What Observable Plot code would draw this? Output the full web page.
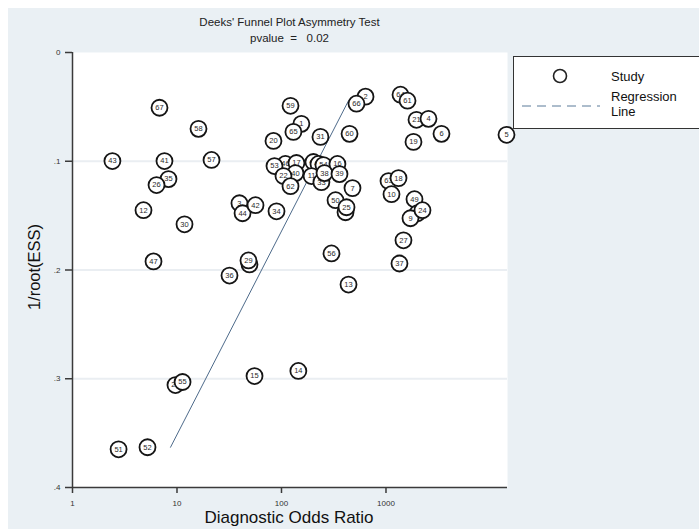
<!DOCTYPE html>
<html>
<head>
<meta charset="utf-8">
<script src="https://cdn.jsdelivr.net/npm/d3@7"></script>
<script src="https://cdn.jsdelivr.net/npm/@observablehq/plot@0.6"></script>
<style>
  body { margin: 0; background: #fff; font-family: "Liberation Sans", Arial, sans-serif; }
  #wrap { position: relative; width: 699px; height: 529px; overflow: hidden; }
  #bg { position: absolute; left: 8px; top: 8px; right: 0; bottom: 0; background: #eaf0f4; }
  #title { position: absolute; left: 72px; width: 435px; top: 14px; text-align: center; font-size: 11.5px; line-height: 16px; color: #222; }
  #chart { position: absolute; left: 0; top: 0; }
  #ytitle { position: absolute; left: 34px; top: 267px; transform: translate(-50%, -50%) rotate(-90deg); font-size: 16.5px; color: #111; white-space: nowrap; }
  #xtitle { position: absolute; left: 289px; top: 518px; transform: translate(-50%, -50%); font-size: 17px; color: #111; white-space: nowrap; }
  #legend { position: absolute; left: 513px; top: 56px; width: 200px; height: 73px; background: #fff; border: 1.5px solid #333; box-sizing: border-box; }
  #legend svg { position: absolute; left: 0; top: 0; }
  .lt { font-size: 13px; fill: #111; }
</style>
</head>
<body>
<div id="wrap">
  <div id="bg"></div>
  <div id="title">Deeks' Funnel Plot Asymmetry Test<br>pvalue &nbsp;= &nbsp; 0.02</div>
  <div id="chart"></div>
  <div id="ytitle">1/root(ESS)</div>
  <div id="xtitle">Diagnostic Odds Ratio</div>
  <div id="legend">
    <svg width="200" height="73">
      <circle cx="46" cy="19" r="6.5" fill="#fff" stroke="#222" stroke-width="1.6"></circle>
      <text class="lt" x="97" y="24">Study</text>
      <line x1="8" x2="86" y1="49" y2="49" stroke="#5a7a99" stroke-width="1" stroke-dasharray="9,6"></line>
      <text class="lt" x="97" y="44">Regression</text>
      <text class="lt" x="97" y="59">Line</text>
    </svg>
  </div>
</div>
<script>
// Study labels, in drawing order
const studyIds = [
  "64","61","2","66","59","1","65","20","31","60","67","58","43","41","57",
  "21","4","6","19","5","35","26","12","30",
  "46","53","17","40","22","62",
  "45","48","54","11","33","38","16","39","7","50","23","25",
  "63","18","10","49","8","9","24","27",
  "3","44","42","34","56","37","13","14","47","32","29","36","15","28","55","51","52"
];
// Diagnostic odds ratio (x)
const dorValues = [
  1377,1607,637,522,122,155,130,83.8,236,448,6.80,16.06,2.41,7.59,21.4,
  1959,2552,3397,1833,14230,8.29,6.37,4.78,11.8,
  109,85.7,139,136,104.5,122,
  202,226,252,194,241,258,343,359,478,329,410,419,
  1057,1318,1129,1874,2002,1716,2235,1470,
  39.6,42.4,56.4,89.6,301,1346,438,145,5.96,49.4,48.3,31.8,55.2,9.67,11.3,2.76,5.22
];
// 1/root(ESS) (y)
const invRootEss = [
  0.0388,0.0443,0.0406,0.0471,0.049,0.0656,0.073,0.0813,0.0776,0.0748,0.0508,0.0702,0.0998,0.0998,0.0988,
  0.0619,0.061,0.0748,0.0822,0.0757,0.1164,0.1219,0.145,0.158,
  0.1025,0.1044,0.1016,0.1109,0.1136,0.1229,
  0.1007,0.1025,0.1035,0.1136,0.1192,0.1109,0.1025,0.1118,0.1247,0.1358,0.1469,0.1423,
  0.1182,0.1155,0.1303,0.1349,0.1478,0.1524,0.145,0.1727,
  0.1386,0.1478,0.1404,0.146,0.1848,0.194,0.2134,0.2928,0.1921,0.1949,0.1912,0.2051,0.2975,0.3058,0.303,0.3649,0.363
];
// Regression line end points
const regDor = [8.67, 438];
const regInvRootEss = [0.363, 0.0443];

const xTicks = [1, 10, 100, 1000];
const yTicks = [0, 0.1, 0.2, 0.3, 0.4];
const yTickLabels = ["0", ".1", ".2", ".3", ".4"];
const gridY = [0.1, 0.2, 0.3];

const studies = studyIds.map((id, i) => ({ id, dor: dorValues[i], y: invRootEss[i] }));
const reg = regDor.map((d, i) => ({ dor: d, y: regInvRootEss[i] }));

const chart = Plot.plot({
  width: 699,
  height: 529,
  marginLeft: 72,
  marginRight: 192,
  marginTop: 52,
  marginBottom: 42,
  style: { background: "transparent", fontFamily: "Liberation Sans, Arial, sans-serif", overflow: "visible" },
  x: { type: "log", domain: [1, 14550] },
  y: { domain: [0, 0.4], reverse: true },
  marks: [
    Plot.frame({ fill: "white", stroke: null }),
    Plot.ruleY(gridY, { stroke: "#eaeef2", strokeWidth: 2 }),
    Plot.line(reg, { x: "dor", y: "y", stroke: "#4d6a8a", strokeWidth: 1 }),
    ...studies.flatMap(d => [
      Plot.dot([d], { x: "dor", y: "y", r: 8, fill: "white", stroke: "#151515", strokeWidth: 1.8 }),
      Plot.text([d], { x: "dor", y: "y", text: "id", fontSize: 7.5, fill: "#2a2a2a" })
    ]),
    Plot.ruleX([1], { stroke: "#3a3a3a", strokeWidth: 1.5 }),
    Plot.ruleY([0.4], { stroke: "#3a3a3a", strokeWidth: 1.5 }),
    Plot.axisX({ ticks: xTicks, tickFormat: d => String(d), tickSize: 6, tickPadding: 7, fontSize: 8, stroke: "#3a3a3a", strokeWidth: 1.5, color: "#333", label: null }),
    Plot.axisY({ ticks: yTicks, tickFormat: (d, i) => yTickLabels[i], tickSize: 7, tickPadding: 5, fontSize: 8, stroke: "#3a3a3a", strokeWidth: 1.5, color: "#333", label: null })
  ]
});
document.getElementById("chart").appendChild(chart);
</script>
</body>
</html>
